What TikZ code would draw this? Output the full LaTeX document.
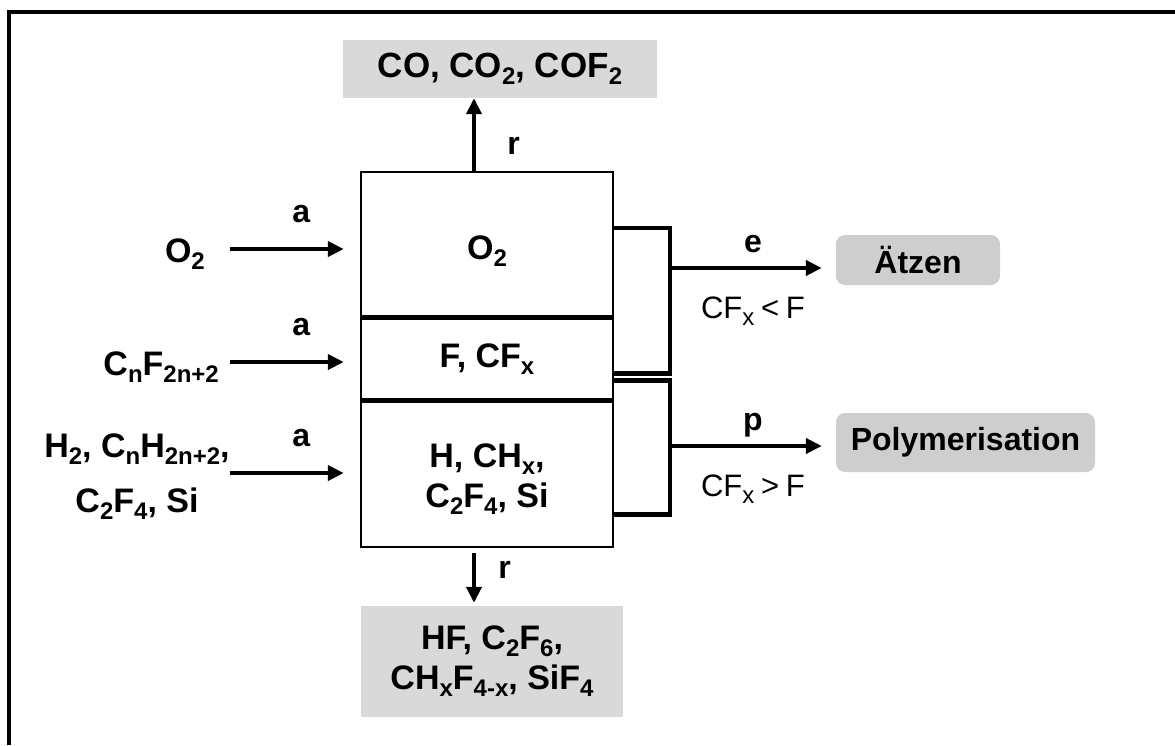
\documentclass[tikz,border=0pt]{standalone}
\usepackage{fontspec}
\setmainfont{Liberation Sans}
\usetikzlibrary{arrows.meta, positioning}
\definecolor{boxgray}{RGB}{217,217,217}
\definecolor{resgray}{RGB}{206,206,206}
\newcommand\sub[1]{\raisebox{-7pt}{\fontsize{24}{24}\selectfont #1}}
\newcommand\sink[2]{\raisebox{-#1}[\height][\depth]{#2}}

\begin{document}
\begin{tikzpicture}[
    x=1pt, y=-1pt,
    font=\fontsize{34}{40}\selectfont\bfseries,
    cell/.style={
      draw,
      line width=2.5pt,
      minimum width=252pt,
      inner sep=0pt,
      align=center
    },
    outbox/.style={
      fill=boxgray,
      inner sep=0pt,
      align=center
    },
    result/.style={
      fill=resgray,
      rounded corners=9pt,
      inner sep=0pt,
      font=\fontsize{32}{36}\selectfont\bfseries
    },
    flow/.style={-{Triangle[length=16pt,width=15pt]}, line width=4.5pt},
    bracket/.style={line width=4.5pt},
    lab/.style={inner sep=0pt, font=\fontsize{32}{36}\selectfont\bfseries},
    cond/.style={inner sep=0pt, font=\fontsize{31}{36}\selectfont}
  ]

  \useasboundingbox (0,0) rectangle (1175,745);
  \draw[line width=4pt] (9,745) -- (9,12) -- (1175,12);

  % ===================== Reaktor =====================
  \node[cell, minimum height=144pt] (o2cell) at (487,244) {\sink{7pt}{O\sub{2}}};
  \node[cell, minimum height=81pt, below=0pt of o2cell] (fcell) {F, CF\sub{x}};
  \node[cell, minimum height=145pt, below=0pt of fcell] (hcell) {\sink{5pt}{H, CH\sub{x},}\\\sink{5pt}{C\sub{2}F\sub{4}, Si}};

  % ===================== Produkte =====================
  \node[outbox, minimum width=314pt, minimum height=58pt, font=\fontsize{35}{40}\selectfont\bfseries] (exhaust) at (500,69) {CO, CO\sub{2}, COF\sub{2}};
  \node[outbox, minimum width=262pt, minimum height=111pt] (residue) at (492,661.5) {HF, C\sub{2}F\sub{6},\\CH\sub{x}F\sub{4-x}, SiF\sub{4}};
  \node[result, minimum width=164pt, minimum height=50pt] (etch) at (918,260) {Ätzen};
  \node[result, minimum width=259pt, minimum height=59pt] (polym) at (965.5,442.5) {Polymerisation};

  % ===================== Zufuhr =====================
  \node[anchor=base east, inner sep=0pt] (o2in) at (205,262) {O\sub{2}};
  \node[anchor=base east, inner sep=0pt] (cfin) at (219,375) {C\sub{n}F\sub{2n+2}};
  \node[anchor=base, inner sep=0pt, align=center] (hin) at (137,512) {H\sub{2}, C\sub{n}H\sub{2n+2},\\[15pt]C\sub{2}F\sub{4}, Si};

  \coordinate (o2src) at (230,249);
  \coordinate (cfsrc) at (230,362);
  \coordinate (hsrc) at (230,473);
  \coordinate (ejoin) at (670,268);
  \coordinate (pjoin) at (670,446);

  \draw[flow, shorten >=16pt] (o2src) -- node[lab, pos=0.55, anchor=base, yshift=27pt]{a} (o2src -| o2cell.west);
  \draw[flow, shorten >=16pt] (cfsrc) -- node[lab, pos=0.55, anchor=base, yshift=27pt]{a} (cfsrc -| fcell.west);
  \draw[flow, shorten >=16pt] (hsrc) -- node[lab, pos=0.55, anchor=base, yshift=27pt]{a} (hsrc -| hcell.west);

  % ===================== Abfuhr =====================
  \draw[flow] ([xshift=-13pt]o2cell.north) -- node[lab, pos=0.23, anchor=base west, xshift=31pt]{r} ([xshift=-13pt]o2cell.north |- exhaust.south);
  \draw[flow, shorten <=5pt, shorten >=3pt] ([xshift=-13pt]hcell.south) -- node[lab, pos=0.52, anchor=base west, xshift=22pt]{r} ([xshift=-13pt]hcell.south |- residue.north);

  % ===================== Ätzen / Polymerisation =====================
  \draw[bracket] ([yshift=16pt]o2cell.east) -| (ejoin) |- ([yshift=-14.5pt]fcell.east);
  \draw[bracket] ([yshift=-21.5pt]fcell.east) -| (pjoin) |- ([yshift=-40pt]hcell.east);

  \draw[flow, shorten >=14pt] (ejoin) -- node[lab, anchor=base, yshift=16pt]{e}
    node[cond, anchor=base, yshift=-50pt]{CF\sub{x}\hspace{-2pt} < \hspace{-2pt}F} (ejoin -| etch.west);
  \draw[flow, shorten >=14pt] (pjoin) -- node[lab, anchor=base, yshift=16pt]{p}
    node[cond, anchor=base, yshift=-50pt]{CF\sub{x}\hspace{-2pt} > \hspace{-2pt}F} (pjoin -| polym.west);

\end{tikzpicture}
\end{document}
